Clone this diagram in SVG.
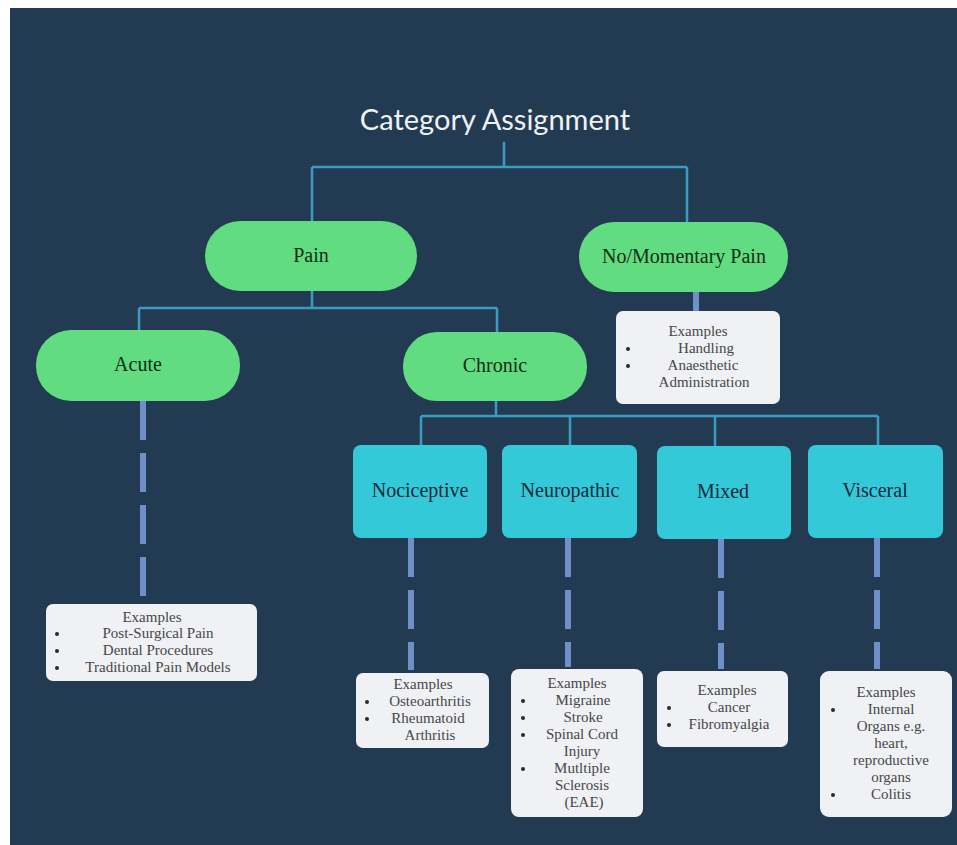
<svg xmlns="http://www.w3.org/2000/svg" width="957" height="845" viewBox="0 0 957 845">
<style>
.title{font-family:Lato,"Liberation Sans",sans-serif;font-size:29px;fill:#eef2f5;text-anchor:middle}
.pill{fill:#62dc80}
.pillt{font-family:"Liberation Serif",serif;font-size:20px;fill:#0f2e16;text-anchor:middle}
.cat{fill:#34c9d9}
.catt{font-family:"Liberation Serif",serif;font-size:20px;fill:#17293b;text-anchor:middle}
.ex{fill:#eff1f4}
.ext{font-family:"Liberation Serif",serif;font-size:15px;fill:#474747;text-anchor:middle}
.bul{fill:#2a2a2a}
.thin{stroke:#3a9cc0;stroke-width:2.5;fill:none}
.dash{stroke:#6f8fc8;stroke-width:6;fill:none;stroke-dasharray:39 13}
.solid{stroke:#6f8fc8;stroke-width:6;fill:none}
</style>
<rect x="10" y="8" width="947" height="837" fill="#223b52"/>
<g id="connectors">
<path class="thin" d="M504 142V167M312 167H687M312 167V221M687 167V222"/>
<path class="thin" d="M312 291V308M139 308H497M139 308V330M497 308V332"/>
<path class="thin" d="M496 401V416M421 416H878M421 416V445M570 416V445M715 416V446M878 416V445"/>
<path class="solid" d="M696 292V311"/>
<path class="dash" d="M143 401V600"/>
<path class="dash" d="M411 538V670"/>
<path class="dash" d="M568 538V667"/>
<path class="dash" d="M721 539V669"/>
<path class="dash" d="M877 538V669"/>
</g>
<g id="title"><text class="title" x="495" y="130">Category Assignment</text></g>
<g id="pain"><rect class="pill" x="205" y="221" width="212" height="70" rx="35"/><text class="pillt" x="311" y="262">Pain</text></g>
<g id="nopain"><rect class="pill" x="579" y="222" width="209" height="70" rx="35"/><text class="pillt" x="684" y="263">No/Momentary Pain</text></g>
<g id="acute"><rect class="pill" x="36" y="330" width="204" height="71" rx="35"/><text class="pillt" x="138" y="371">Acute</text></g>
<g id="chronic"><rect class="pill" x="403" y="332" width="184" height="69" rx="34"/><text class="pillt" x="495" y="372">Chronic</text></g>
<g id="nociceptive"><rect class="cat" x="353" y="445" width="134" height="93" rx="8"/><text class="catt" x="420" y="497">Nociceptive</text></g>
<g id="neuropathic"><rect class="cat" x="502" y="445" width="135" height="93" rx="8"/><text class="catt" x="570" y="497">Neuropathic</text></g>
<g id="mixed"><rect class="cat" x="657" y="446" width="134" height="93" rx="8"/><text class="catt" x="723" y="498">Mixed</text></g>
<g id="visceral"><rect class="cat" x="808" y="445" width="135" height="93" rx="8"/><text class="catt" x="875" y="497">Visceral</text></g>
<g id="ex-nopain"><rect class="ex" x="616" y="311" width="164" height="93" rx="7"/>
<text class="ext" x="698" y="336">Examples</text>
<text class="ext" x="706" y="353">Handling</text>
<text class="ext" x="703" y="370">Anaesthetic</text>
<text class="ext" x="704" y="387">Administration</text>
<circle class="bul" cx="628" cy="349" r="2"/><circle class="bul" cx="628" cy="366" r="2"/></g>
<g id="ex-acute"><rect class="ex" x="46" y="604" width="211" height="77" rx="7"/>
<text class="ext" x="152" y="622">Examples</text>
<text class="ext" x="158" y="638">Post-Surgical Pain</text>
<text class="ext" x="158" y="655">Dental Procedures</text>
<text class="ext" x="158" y="672">Traditional Pain Models</text>
<circle class="bul" cx="57" cy="634" r="2"/><circle class="bul" cx="57" cy="651" r="2"/><circle class="bul" cx="57" cy="668" r="2"/></g>
<g id="ex-nociceptive"><rect class="ex" x="356" y="673" width="133" height="75" rx="7"/>
<text class="ext" x="423" y="689">Examples</text>
<text class="ext" x="430" y="706">Osteoarthritis</text>
<text class="ext" x="428" y="723">Rheumatoid</text>
<text class="ext" x="430" y="740">Arthritis</text>
<circle class="bul" cx="367" cy="702" r="2"/><circle class="bul" cx="367" cy="719" r="2"/></g>
<g id="ex-neuropathic"><rect class="ex" x="511" y="669" width="132" height="148" rx="8"/>
<text class="ext" x="577" y="688">Examples</text>
<text class="ext" x="583" y="705">Migraine</text>
<text class="ext" x="583" y="722">Stroke</text>
<text class="ext" x="582" y="739">Spinal Cord</text>
<text class="ext" x="582" y="756">Injury</text>
<text class="ext" x="582" y="773">Mutltiple</text>
<text class="ext" x="582" y="790">Sclerosis</text>
<text class="ext" x="584" y="807">(EAE)</text>
<circle class="bul" cx="523" cy="701" r="2"/><circle class="bul" cx="523" cy="718" r="2"/><circle class="bul" cx="523" cy="735" r="2"/><circle class="bul" cx="523" cy="769" r="2"/></g>
<g id="ex-mixed"><rect class="ex" x="657" y="671" width="131" height="76" rx="7"/>
<text class="ext" x="727" y="695">Examples</text>
<text class="ext" x="729" y="712">Cancer</text>
<text class="ext" x="729" y="729">Fibromyalgia</text>
<circle class="bul" cx="669" cy="708" r="2"/><circle class="bul" cx="669" cy="725" r="2"/></g>
<g id="ex-visceral"><rect class="ex" x="820" y="671" width="132" height="146" rx="9"/>
<text class="ext" x="886" y="697">Examples</text>
<text class="ext" x="891" y="714">Internal</text>
<text class="ext" x="891" y="731">Organs e.g.</text>
<text class="ext" x="891" y="748">heart,</text>
<text class="ext" x="891" y="765">reproductive</text>
<text class="ext" x="891" y="782">organs</text>
<text class="ext" x="891" y="799">Colitis</text>
<circle class="bul" cx="833" cy="710" r="2"/><circle class="bul" cx="833" cy="795" r="2"/></g>
</svg>
